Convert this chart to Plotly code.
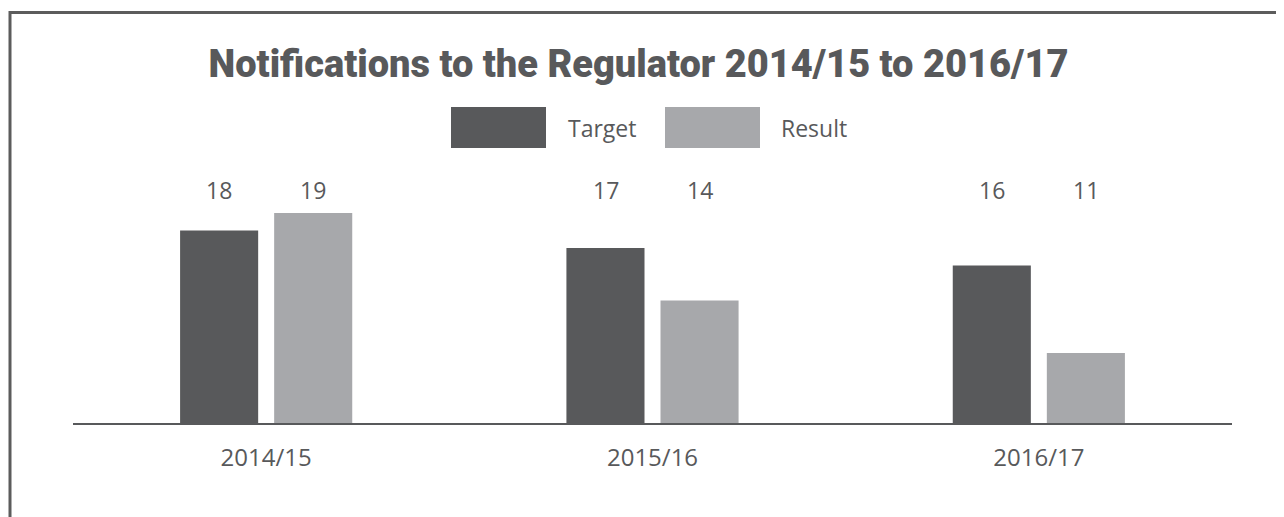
import plotly.graph_objects as go

# ---- data ----
categories = ["2014/15", "2015/16", "2016/17"]
target = [18, 17, 16]
result = [19, 14, 11]
series_names = ["Target", "Result"]
title_text = "Notifications to the Regulator 2014/15 to 2016/17"

# ---- style ----
OFF = 8  # page body margin of the html page
W, H = 1284 - OFF, 517 - OFF
# plot area in screen pixels
SX0, SX1, SY0, SY1 = 73, 1232, 160, 423
ML, MR = SX0 - OFF, W - (SX1 - OFF)
MT, MB = SY0 - OFF, H - (SY1 - OFF)
DARK = "#58595b"
LIGHT = "#a7a8ab"
TEXT = "#58595b"
PW = SX1 - SX0
PH = SY1 - SY0
FONT = "Open Sans, Lato, sans-serif"


def px_x(p):
    return (p - SX0) / PW


def px_y(p):
    return (SY1 - p) / PH


fig = go.Figure()
fig.add_trace(go.Bar(x=categories, y=target, name=series_names[0],
                     marker=dict(color=DARK, line=dict(width=0))))
fig.add_trace(go.Bar(x=categories, y=result, name=series_names[1],
                     marker=dict(color=LIGHT, line=dict(width=0))))

# value labels at a fixed height above the bars
label_font = dict(family=FONT, size=23, color=TEXT)
for cat, t, r in zip(categories, target, result):
    for val, shift in ((t, -47), (r, 47)):
        fig.add_annotation(x=cat, xref="x", y=px_y(190), yref="paper",
                           text=str(val), showarrow=False, xshift=shift,
                           yanchor="middle", font=label_font)

# custom legend
leg_font = dict(family=FONT, size=23, color=TEXT)
for (x0, x1, tx), col, name in zip(((451, 546, 566), (665, 760, 779)),
                                   (DARK, LIGHT), series_names):
    fig.add_shape(type="rect", xref="paper", yref="paper",
                  x0=px_x(x0), x1=px_x(x1), y0=px_y(148), y1=px_y(107),
                  fillcolor=col, line=dict(width=0))
    fig.add_annotation(x=px_x(tx), xref="paper", y=px_y(128), yref="paper",
                       text=name, showarrow=False, xanchor="left",
                       yanchor="middle", font=leg_font)

# frame (left and top edges)
fig.add_shape(type="path", xref="paper", yref="paper",
              path=f"M {px_x(10)} {px_y(540)} L {px_x(10)} {px_y(12.5)} L {px_x(1300)} {px_y(12.5)}",
              line=dict(color="#5c5c5c", width=3))

fig.update_layout(
    width=W, height=H,
    margin=dict(l=ML, r=MR, t=MT, b=MB, pad=0),
    paper_bgcolor="white", plot_bgcolor="white",
    barmode="group", bargap=0.513, bargroupgap=0.17,
    showlegend=False,
    title=dict(text=title_text, x=(638.5 - OFF) / W, xanchor="center",
               y=1 - (64 - OFF) / H, yanchor="middle", yref="container",
               font=dict(family="Roboto, DejaVu Sans, sans-serif", size=38,
                         color=TEXT, weight=900)),
    xaxis=dict(showline=True, linecolor=DARK, linewidth=1.5,
               ticks="", showgrid=False, zeroline=False,
               tickfont=dict(family=FONT, size=24, color=TEXT),
               ticklabelstandoff=12),
    yaxis=dict(range=[7, 7 + PH / 17.5], visible=False, showgrid=False,
               zeroline=False),
)

fig.write_html("out.html")
